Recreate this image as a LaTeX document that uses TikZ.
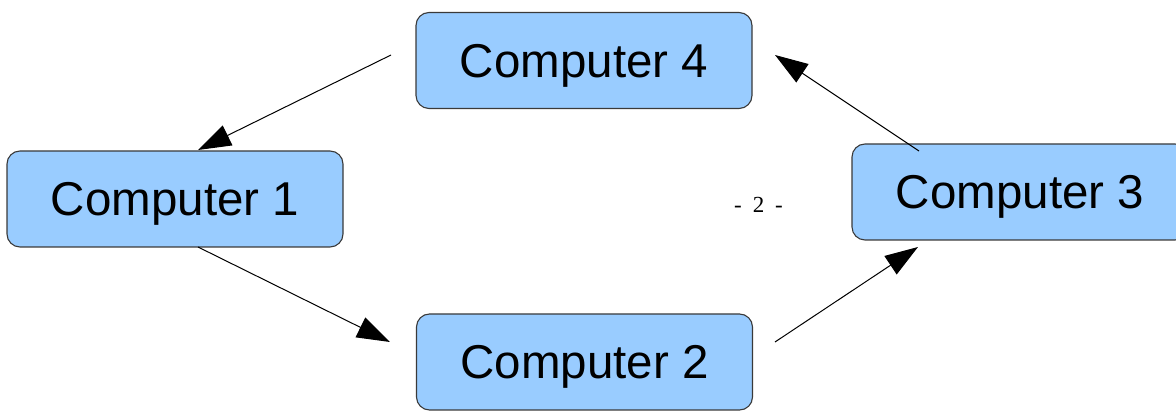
\documentclass[tikz,border=0pt]{standalone}
\usepackage{fontspec}
\setmainfont{Liberation Sans}
\newfontfamily\pageserif{Liberation Serif}
\newcommand\pagenumfont{\pageserif\fontsize{23}{26}\selectfont\spaceskip=11pt\relax}
\usetikzlibrary{arrows.meta}
\definecolor{boxfill}{HTML}{99CCFF}
\definecolor{boxline}{HTML}{3A3A3A}
\tikzset{
  compbox/.style={draw=boxline, line width=1.1pt, fill=boxfill, rounded corners=13pt,
    minimum width=336pt, minimum height=96pt, inner sep=0pt,
    font=\fontsize{47.5}{56}\selectfont, text height=34pt, text depth=0pt},
  flow/.style={line width=1pt, -{Triangle[length=33pt,width=22pt]}}
}
\begin{document}
\begin{tikzpicture}[x=1pt,y=-1pt]
\useasboundingbox (0,0) rectangle (1176,411);
\clip (0,0) rectangle (1176,411);
\node[compbox] (c4) at (584,60.5) {Computer 4};
\node[compbox] (c1) at (175,199) {Computer 1};
\node[compbox] (c2) at (584.5,362) {Computer 2};
\node[compbox] (c3) at (1020,192) {Computer 3};
\node[font=\pagenumfont, inner sep=0pt] (pg) at (758.5,204.5) {- 2 -};
\coordinate (s41) at (391,55);
\coordinate (e41) at (198,150);
\coordinate (s12) at (198,247);
\coordinate (e12) at (390,342);
\coordinate (s23) at (775,342);
\coordinate (e23) at (918,247);
\coordinate (s34) at (919,151);
\coordinate (e34) at (775,55);
\draw[flow] (s41) -- (e41);
\draw[flow] (s12) -- (e12);
\draw[flow] (s23) -- (e23);
\draw[flow] (s34) -- (e34);
\end{tikzpicture}
\end{document}
